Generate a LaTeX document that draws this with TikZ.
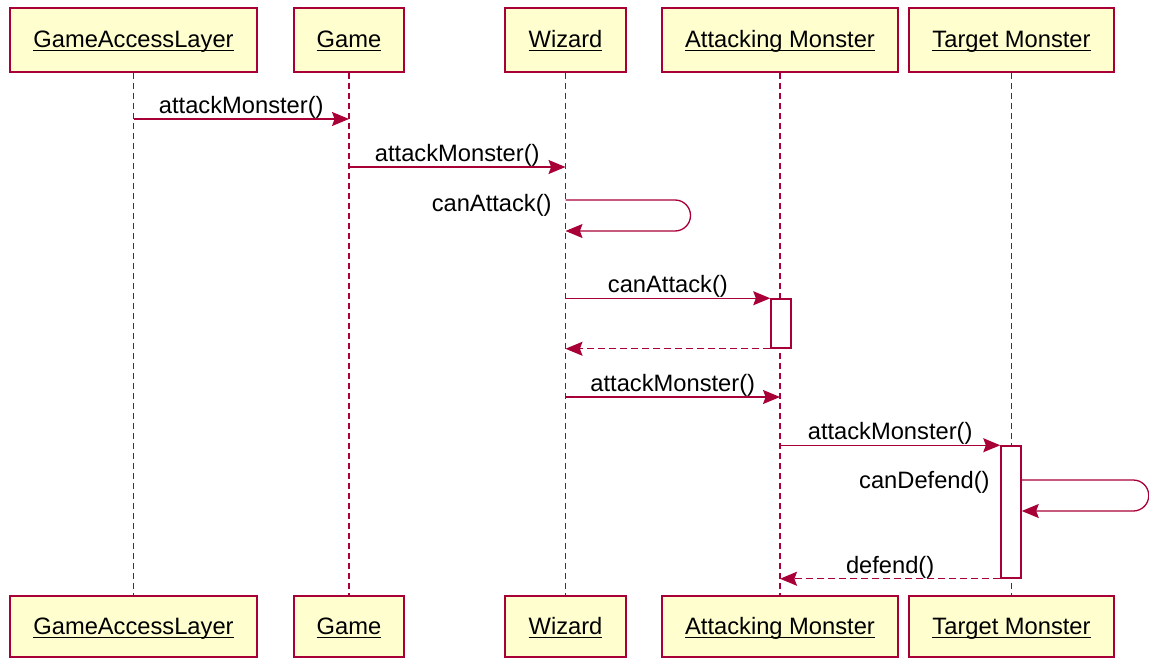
\documentclass[tikz,border=0pt]{standalone}
\usepackage{fontspec}
\setmainfont{Liberation Sans}
\usepackage{xcolor}
\usetikzlibrary{arrows.meta}
\definecolor{umlred}{HTML}{A80036}
\definecolor{umlfill}{HTML}{FEFECE}
\newcommand{\actorname}[1]{\underline{\smash{#1}}}

\begin{document}
\begin{tikzpicture}[x=0.5pt, y=-0.5pt,
  font=\fontsize{11.85pt}{14pt}\selectfont,
  actor/.style={draw=umlred, fill=umlfill, line width=0.75pt, inner sep=0pt, text height=10pt, text depth=2pt},
  lifeline/.style={umlred, line width=0.75pt, dash pattern=on 3pt off 2pt},
  msg/.style={umlred, line width=0.65pt, -{Stealth[length=8.5pt, width=7pt, inset=1.3pt]}},
  reply/.style={msg, dash pattern=on 3.5pt off 2pt},
  activation/.style={draw=umlred, fill=white, line width=0.75pt, minimum width=10pt, inner sep=0pt},
  msglabel/.style={above, inner sep=0pt, text=black}]
  \useasboundingbox (0,0) rectangle (1149,658);

  \node[actor, minimum width=123.5pt, minimum height=32pt] (gal) at (133.5,40) {\actorname{GameAccessLayer}};
  \node[actor, minimum width=55pt, minimum height=32pt] (game) at (349,40) {\actorname{Game}};
  \node[actor, minimum width=60.5pt, minimum height=32pt] (wiz) at (565.5,40) {\actorname{Wizard}};
  \node[actor, minimum width=118pt, minimum height=32pt] (atk) at (780,40) {\actorname{Attacking Monster}};
  \node[actor, minimum width=102.5pt, minimum height=32pt] (tgt) at (1011.5,40) {\actorname{Target Monster}};

  \node[actor, minimum width=123.5pt, minimum height=30.5pt] (galb) at (133.5,626.5) {\actorname{GameAccessLayer}};
  \node[actor, minimum width=55pt, minimum height=30.5pt] (gameb) at (349,626.5) {\actorname{Game}};
  \node[actor, minimum width=60.5pt, minimum height=30.5pt] (wizb) at (565.5,626.5) {\actorname{Wizard}};
  \node[actor, minimum width=118pt, minimum height=30.5pt] (atkb) at (780,626.5) {\actorname{Attacking Monster}};
  \node[actor, minimum width=102.5pt, minimum height=30.5pt] (tgtb) at (1011.5,626.5) {\actorname{Target Monster}};

  \draw[lifeline] (gal) -- (galb);
  \draw[lifeline] (game) -- (gameb);
  \draw[lifeline] (wiz) -- (wizb);
  \draw[lifeline] (atk) -- (atkb);
  \draw[lifeline] (tgt) -- (tgtb);

  \node[activation, minimum height=24.5pt] (act1) at (781,323.5) {};
  \node[activation, minimum height=66pt] (act2) at (1011,512) {};

  \coordinate (m1) at (0,119);
  \coordinate (m2) at (0,167);
  \coordinate (s1a) at (0,200);
  \coordinate (s1b) at (0,231);
  \coordinate (m6) at (0,397);
  \coordinate (s2a) at (0,480);
  \coordinate (s2b) at (0,511);

  \draw[msg] (gal |- m1) -- node[msglabel] (l1) {attackMonster()} (game |- m1);
  \draw[msg] (game |- m2) -- node[msglabel] (l2) {attackMonster()} (wiz |- m2);
  \draw[msg, rounded corners=7.75pt] (wiz |- s1a) -- ++(125,0) -- ++(0,31) -- (wiz |- s1b);
  \node[anchor=east, inner sep=0pt] (l3) at (552,205) {canAttack()};
  \draw[msg] (wiz |- act1.north west) -- node[msglabel] (l4) {canAttack()} (act1.north west);
  \draw[reply] (act1.south west) -- (wiz |- act1.south west);
  \draw[msg] (wiz |- m6) -- node[msglabel] (l6) {attackMonster()} (atk |- m6);
  \draw[msg] (atk |- act2.north west) -- node[msglabel] (l7) {attackMonster()} (act2.north west);
  \draw[msg, rounded corners=7.75pt] (act2.east |- s2a) -- ++(127,0) -- ++(0,31) -- (act2.east |- s2b);
  \node[anchor=east, inner sep=0pt] (l8) at (990,482) {canDefend()};
  \draw[reply] (act2.south west) -- node[msglabel] (l9) {defend()} (atk |- act2.south west);
\end{tikzpicture}
\end{document}
